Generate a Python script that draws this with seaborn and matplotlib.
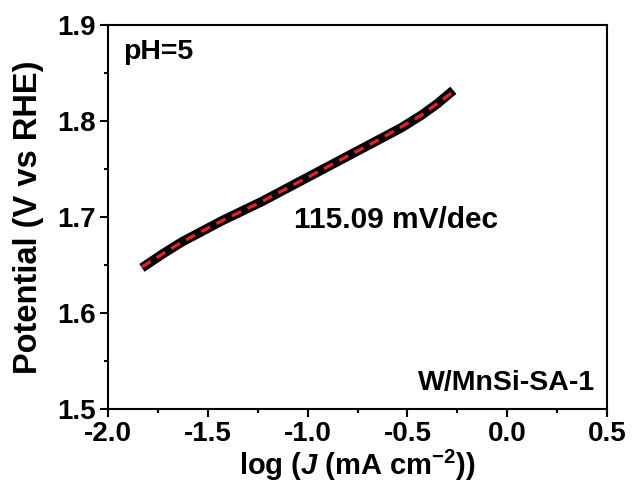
import matplotlib
matplotlib.use("Agg")
import matplotlib.pyplot as plt
import seaborn as sns
import pandas as pd
from matplotlib.ticker import MultipleLocator

# Data
log_j = [-1.83, -1.73, -1.63, -1.53, -1.43, -1.33, -1.23, -1.13, -1.03, -0.93,
         -0.83, -0.73, -0.63, -0.53, -0.43, -0.35, -0.27]
potential = [1.647, 1.661, 1.674, 1.685, 1.696, 1.706, 1.716, 1.727, 1.738, 1.749,
             1.760, 1.771, 1.782, 1.793, 1.806, 1.818, 1.832]
fit_log_j = [-1.83, -1.63, -1.43, -1.23, -1.03, -0.83, -0.63, -0.43, -0.28]
fit_potential = [1.648, 1.674, 1.696, 1.716, 1.738, 1.760, 1.782, 1.806, 1.829]
xticks = [-2.0, -1.5, -1.0, -0.5, 0.0, 0.5]
yticks = [1.5, 1.6, 1.7, 1.8, 1.9]

sns.set_style("ticks")
plt.rcParams['font.family'] = ['Liberation Sans', 'DejaVu Sans']
plt.rcParams['font.weight'] = 'bold'
plt.rcParams['text.color'] = 'black'
plt.rcParams['axes.labelcolor'] = 'black'
plt.rcParams['mathtext.fontset'] = 'custom'
plt.rcParams['mathtext.it'] = 'Liberation Sans:bold:italic'
plt.rcParams['mathtext.rm'] = 'Liberation Sans:bold'
plt.rcParams['mathtext.bf'] = 'Liberation Sans:bold'

df = pd.DataFrame({"x": log_j, "y": potential})
dfit = pd.DataFrame({"x": fit_log_j, "y": fit_potential})

fig = plt.figure(figsize=(6.33, 4.90), dpi=100)
ax = fig.add_axes([108/633, 81/490, 499/633, 384/490])

sns.lineplot(data=df, x="x", y="y", ax=ax, color="black", linewidth=6.8,
             solid_capstyle="butt", solid_joinstyle="round", estimator=None, sort=False)
sns.lineplot(data=dfit, x="x", y="y", ax=ax, color="#e8202a", linewidth=2.3,
             estimator=None, sort=False)
ax.lines[-1].set_linestyle((0, (3.2, 2.2)))

ax.set_xlim(-2.0, 0.5)
ax.set_ylim(1.5, 1.9)
ax.set_xticks(xticks)
ax.set_yticks(yticks)
ax.set_xticklabels([f"{t:.1f}" for t in xticks])
ax.set_yticklabels([f"{t:.1f}" for t in yticks])
ax.xaxis.set_minor_locator(MultipleLocator(0.25))
ax.yaxis.set_minor_locator(MultipleLocator(0.05))

for s in ax.spines.values():
    s.set_linewidth(1.5)
    s.set_color("black")
    s.set_visible(True)

ax.tick_params(axis="both", which="major", direction="out", length=5.5, width=1.5,
               labelsize=20, pad=3, colors="black", top=False, right=False)
ax.tick_params(axis="both", which="minor", direction="out", length=3, width=1.5,
               colors="black", top=False, right=False)
for lab in ax.get_xticklabels() + ax.get_yticklabels():
    lab.set_fontweight("bold")

ax.set_xlabel(r"log ($J$ (mA cm$^{-2}$))", fontsize=21, fontweight="bold", labelpad=1)
ax.set_ylabel("Potential (V vs RHE)", fontsize=23.5, fontweight="bold", labelpad=10)

ax.text(15/499, 1 - 27/384, "pH=5", transform=ax.transAxes, fontsize=20.5, fontweight="bold",
        ha="left", va="center")
ax.text(288/499, 1 - 195/384, "115.09 mV/dec", transform=ax.transAxes, fontsize=21.5,
        fontweight="bold", ha="center", va="center")
ax.text(487/499, 1 - 358/384, "W/MnSi-SA-1", transform=ax.transAxes, fontsize=20.5,
        fontweight="bold", ha="right", va="center")

fig.savefig("out.png", dpi=100)
